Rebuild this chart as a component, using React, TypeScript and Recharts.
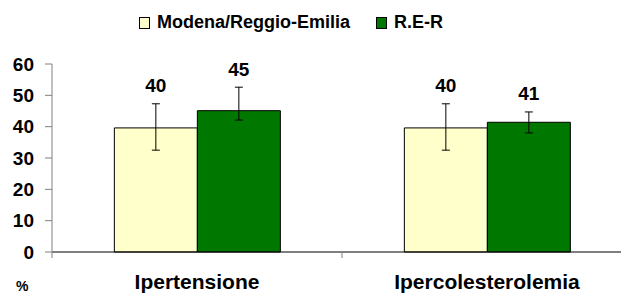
import React from "react";
import {
  BarChart,
  Bar,
  XAxis,
  YAxis,
  ErrorBar,
  LabelList,
} from "recharts";

const categories = ["Ipertensione", "Ipercolesterolemia"];
const modenaValues = [39.6, 39.6];
const rerValues = [45.1, 41.4];
// [lower, upper] error deltas
const modenaErrors = [
  [7.1, 7.7],
  [7.1, 7.7],
];
const rerErrors = [
  [3.0, 7.5],
  [3.4, 3.3],
];
const yTicks = [0, 10, 20, 30, 40, 50, 60];

const series = [
  { key: "modena", name: "Modena/Reggio-Emilia", color: "#FFFFCC" },
  { key: "rer", name: "R.E-R", color: "#007800" },
];

const data = categories.map((name, i) => ({
  name,
  modena: modenaValues[i],
  modenaErr: modenaErrors[i],
  rer: rerValues[i],
  rerErr: rerErrors[i],
}));

const FONT = "'Liberation Sans', Arial, sans-serif";

function makeLabel(errors: number[][]) {
  return (props: any) => {
    const { x, y, width, height, value, index } = props;
    const pxPerUnit = height / value;
    const top = y - errors[index][1] * pxPerUnit;
    return (
      <text
        x={x + width / 2}
        y={top - 18}
        textAnchor="middle"
        dominantBaseline="central"
        fontFamily={FONT}
        fontWeight="bold"
        fontSize={19}
        fill="#000"
      >
        {Math.round(value)}
      </text>
    );
  };
}

function CategoryTick(props: any) {
  const { x, y, payload, index } = props;
  const half = payload.offset || 0;
  return (
    <g>
      <line x1={x - half} x2={x - half} y1={y} y2={y + 6} stroke="#808080" />
      {index === categories.length - 1 && (
        <line x1={x + half} x2={x + half} y1={y} y2={y + 6} stroke="#808080" />
      )}
      <text
        x={x}
        y={y}
        dy={37}
        textAnchor="middle"
        fontFamily={FONT}
        fontWeight="bold"
        fontSize={21}
        fill="#000"
      >
        {payload.value}
      </text>
    </g>
  );
}

export default function App() {
  return (
    <div
      style={{
        position: "absolute",
        left: 0,
        top: 0,
        width: 621,
        height: 296,
        overflow: "hidden",
        background: "#fff",
        fontFamily: FONT,
      }}
    >
      <div
        style={{
          position: "absolute",
          top: 12,
          left: 139,
          display: "flex",
          alignItems: "center",
          fontWeight: "bold",
          fontSize: 18,
          color: "#000",
          whiteSpace: "nowrap",
        }}
      >
        {series.map((s, i) => (
          <div key={s.key} style={{ display: "flex", alignItems: "center", marginRight: i === 0 ? 26 : 0 }}>
            <span
              style={{
                display: "inline-block",
                width: 9,
                height: 10,
                background: s.color,
                border: "1px solid #000",
                marginRight: 7,
              }}
            />
            <span>{s.name}</span>
          </div>
        ))}
      </div>
      <BarChart
        width={650}
        height={296}
        data={data}
        margin={{ top: 64, right: 18, bottom: 14, left: 0 }}
        barCategoryGap="21.5%"
        barGap={0}
      >
        <XAxis
          dataKey="name"
          height={30}
          axisLine={{ stroke: "#000", strokeWidth: 1 }}
          tickLine={false}
          tickSize={0}
          tickMargin={0}
          tick={<CategoryTick />}
          interval={0}
        />
        <YAxis
          width={52}
          domain={[0, 60]}
          ticks={yTicks}
          interval={0}
          axisLine={{ stroke: "#808080" }}
          tickLine={{ stroke: "#808080" }}
          tickSize={7}
          tickMargin={11}
          tick={{ fill: "#000", fontFamily: FONT, fontWeight: "bold", fontSize: 19 }}
        />
        <Bar dataKey="modena" fill="#FFFFCC" stroke="#000" strokeWidth={1} isAnimationActive={false}>
          <ErrorBar dataKey="modenaErr" width={4} stroke="#000" strokeWidth={1} direction="y" />
          <LabelList dataKey="modena" content={makeLabel(modenaErrors)} />
        </Bar>
        <Bar dataKey="rer" fill="#007800" stroke="#000" strokeWidth={1} isAnimationActive={false}>
          <ErrorBar dataKey="rerErr" width={4} stroke="#000" strokeWidth={1} direction="y" />
          <LabelList dataKey="rer" content={makeLabel(rerErrors)} />
        </Bar>
      </BarChart>
      <div
        style={{
          position: "absolute",
          left: 16,
          top: 278,
          fontSize: 14,
          fontWeight: "bold",
          color: "#000",
        }}
      >
        %
      </div>
    </div>
  );
}
